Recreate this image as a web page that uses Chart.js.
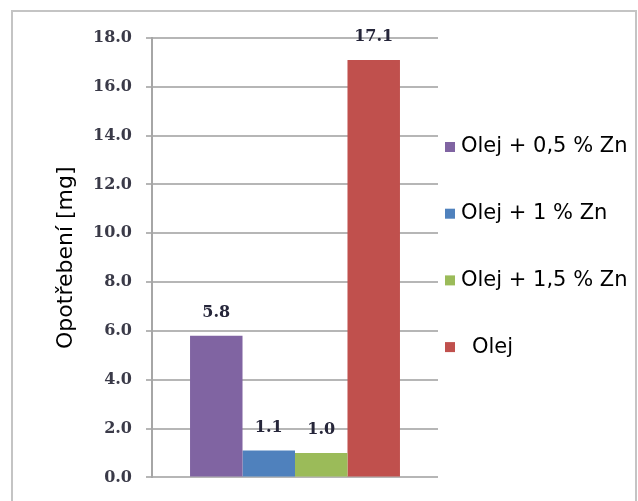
<!DOCTYPE html>
<html>
<head>
<meta charset="utf-8">
<script src="https://cdn.jsdelivr.net/npm/chart.js@4/dist/chart.umd.min.js"></script>
<style>
  html, body { margin: 0; padding: 0; background: #fff; }
  #wrap { width: 638px; height: 501px; }
</style>
</head>
<body>
<div id="wrap"><canvas id="chart" width="638" height="501"></canvas></div>
<script>
// chart data
const categories = [''];
const seriesNames = ['Olej + 0,5 % Zn', 'Olej + 1 % Zn', 'Olej + 1,5 % Zn', 'Olej'];
const seriesValues = [[5.8], [1.1], [1.0], [17.1]];
const seriesColors = ['#8064a2', '#4f81bd', '#9bbb59', '#c0504d'];
const yTicks = [0, 2, 4, 6, 8, 10, 12, 14, 16, 18];
const yTitle = 'Opotřebení [mg]';

// grey frame round the whole chart
const framePlugin = {
  id: 'frame',
  beforeDraw(chart) {
    const ctx = chart.ctx;
    ctx.save();
    ctx.strokeStyle = '#c4c4c4';
    ctx.lineWidth = 2;
    ctx.strokeRect(12, 11, 624, 520);
    ctx.restore();
  }
};

// value labels above the bars
const valueLabels = {
  id: 'valueLabels',
  afterDatasetsDraw(chart) {
    const ctx = chart.ctx;
    ctx.save();
    ctx.font = 'bold 16px "DejaVu Serif"';
    ctx.fillStyle = '#26263a';
    ctx.textAlign = 'center';
    ctx.textBaseline = 'bottom';
    chart.data.datasets.forEach((ds, i) => {
      chart.getDatasetMeta(i).data.forEach((bar, j) => {
        ctx.fillText(ds.data[j].toFixed(1), bar.x, bar.y - 15);
      });
    });
    ctx.restore();
  }
};

// legend on the right, drawn by hand so it sits where the original does
const sideLegend = {
  id: 'sideLegend',
  afterDraw(chart) {
    const ctx = chart.ctx;
    const indent = [0, 0, 0, 11];
    ctx.save();
    ctx.font = '21px "DejaVu Sans"';
    ctx.textBaseline = 'middle';
    chart.data.datasets.forEach((ds, i) => {
      const y = 147 + i * 66.7;
      ctx.fillStyle = ds.backgroundColor;
      ctx.fillRect(445, y - 5, 10, 10);
      ctx.fillStyle = '#000';
      ctx.fillText(ds.label, 461 + indent[i], y);
    });
    ctx.restore();
  }
};

new Chart(document.getElementById('chart'), {
  type: 'bar',
  data: {
    labels: categories,
    datasets: seriesNames.map((name, i) => ({
      label: name,
      data: seriesValues[i],
      backgroundColor: seriesColors[i],
      categoryPercentage: 0.734,
      barPercentage: 1
    }))
  },
  options: {
    responsive: false,
    animation: false,
    layout: { padding: { left: 40, right: 200, top: 38, bottom: 23 } },
    plugins: {
      legend: { display: false },
      tooltip: { enabled: false }
    },
    scales: {
      x: { display: false },
      y: {
        min: 0,
        max: 18,
        afterBuildTicks(scale) {
          scale.ticks = yTicks.map(v => ({ value: v }));
        },
        afterFit(scale) { scale.width = 112; },
        ticks: {
          padding: 14,
          color: '#3a3a48',
          font: { family: 'DejaVu Serif', size: 16, weight: 'bold' },
          callback: v => v.toFixed(1)
        },
        grid: { color: '#b6b6b6', lineWidth: 2, tickLength: 6 },
        border: { color: '#a6a6a6', width: 2 },
        title: {
          display: true,
          text: yTitle,
          color: '#000',
          padding: { top: 13, bottom: 0 },
          font: { family: 'DejaVu Sans', size: 22 }
        }
      }
    }
  },
  plugins: [framePlugin, valueLabels, sideLegend]
});
</script>
</body>
</html>
